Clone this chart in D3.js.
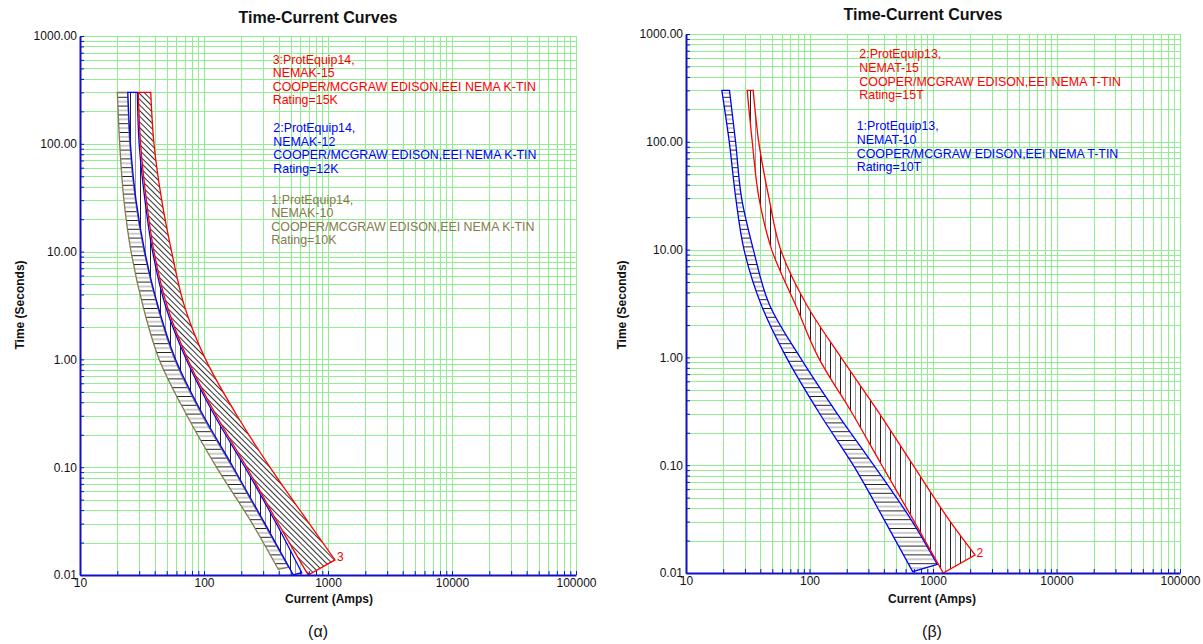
<!DOCTYPE html>
<html>
<head>
<meta charset="utf-8">
<script src="https://cdn.jsdelivr.net/npm/d3@7"></script>
<style>
  body { margin: 0; background: #fff; }
  svg { display: block; font-family: "Liberation Sans", Arial, Helvetica, sans-serif; }
</style>
</head>
<body>
<svg id="chart" width="1203" height="644"></svg>
<script>
// ---- Axis ticks ----
const xTickValues = [10, 100, 1000, 10000, 100000];
const xTickLabels = ["10", "100", "1000", "10000", "100000"];
const yTickValues = [0.01, 0.1, 1, 10, 100, 1000];
const yTickLabels = ["0.01", "0.10", "1.00", "10.00", "100.00", "1000.00"];

// ---- (α) NEMA K links, ProtEquip14: [current A, time s] ----
const k10Melt  = [[20.0, 300], [20.9, 100], [22.6, 30], [25.8, 10], [32.5, 3], [43.5, 1], [73, 0.3], [126, 0.1], [245, 0.03], [397, 0.0113]];
const k10Clear = [[24.3, 300], [25.2, 100], [28.0, 30], [32.9, 10], [42.5, 3], [58, 1], [97, 0.3], [169, 0.1], [305, 0.03], [480, 0.0118]];
const k12Melt  = [[24.3, 300], [25.5, 100], [28.3, 30], [33.3, 10], [43, 3], [59, 1], [99, 0.3], [172, 0.1], [310, 0.03], [525, 0.01]];
const k12Clear = [[29.0, 300], [30.0, 100], [33.4, 30], [38.5, 10], [49.5, 3], [72, 1], [122, 0.3], [214, 0.1], [383, 0.03], [614, 0.0105]];
const k15Melt  = [[29.5, 300], [30.8, 100], [34.3, 30], [39.5, 10], [51, 3], [74, 1], [126, 0.3], [221, 0.1], [397, 0.03], [693, 0.01]];
const k15Clear = [[37.2, 300], [39.5, 100], [45.6, 30], [54.8, 10], [70.3, 3], [103, 1], [185, 0.3], [340, 0.1], [707, 0.03], [1138, 0.0138]];

// ---- (β) NEMA T links, ProtEquip13: [current A, time s] ----
const t10Melt  = [[19.5, 300], [22.4, 100], [25.3, 30], [29.5, 10], [41, 3], [65, 1], [121, 0.3], [226, 0.1], [410, 0.03], [685, 0.0103]];
const t10Clear = [[22.5, 300], [25.2, 100], [28.2, 30], [35.1, 10], [47.9, 3], [84, 1], [168, 0.3], [331, 0.1], [680, 0.03], [1085, 0.012]];
const t15Melt  = [[31.3, 300], [34.4, 100], [39.0, 30], [49.4, 10], [77.8, 3], [118, 1], [223, 0.3], [385, 0.1], [706, 0.03], [1211, 0.01]];
const t15Clear = [[35.0, 300], [38.8, 100], [47.0, 30], [58.4, 10], [96, 3], [180, 1], [370, 0.3], [690, 0.1], [1380, 0.03], [2188, 0.0147]];

// ---- Device descriptions ----
const legendK15 = ["3:ProtEquip14,", "NEMAK-15", "COOPER/MCGRAW EDISON,EEI NEMA K-TIN", "Rating=15K"];
const legendK12 = ["2:ProtEquip14,", "NEMAK-12", "COOPER/MCGRAW EDISON,EEI NEMA K-TIN", "Rating=12K"];
const legendK10 = ["1:ProtEquip14,", "NEMAK-10", "COOPER/MCGRAW EDISON,EEI NEMA K-TIN", "Rating=10K"];
const legendT15 = ["2:ProtEquip13,", "NEMAT-15", "COOPER/MCGRAW EDISON,EEI NEMA T-TIN", "Rating=15T"];
const legendT10 = ["1:ProtEquip13,", "NEMAT-10", "COOPER/MCGRAW EDISON,EEI NEMA T-TIN", "Rating=10T"];

const RED = "#ff0000", BLUE = "#0000ff", OLIVE = "#857b4e";
const AXIS = "#1010c8", GRID = "#90ee90";

const svg = d3.select("#chart");
const defs = svg.append("defs");

// Hatch fills: horizontal, vertical and back-diagonal
function hatchPattern(id, w, h, lines, transform) {
  const p = defs.append("pattern").attr("id", id)
    .attr("patternUnits", "userSpaceOnUse").attr("width", w).attr("height", h);
  if (transform) p.attr("patternTransform", transform);
  p.append("rect").attr("width", w).attr("height", h).attr("fill", "#fff");
  lines.forEach(l => p.append("line")
    .attr("x1", l[0]).attr("y1", l[1]).attr("x2", l[2]).attr("y2", l[3])
    .attr("stroke", l[4]).attr("stroke-width", 1));
}
hatchPattern("hatch-h", 10, 8.8, [[0, 0.5, 10, 0.5, "#222"], [0, 4.9, 10, 4.9, "#9a9a9a"]]);
hatchPattern("hatch-v", 10, 10, [[0.5, 0, 0.5, 10, "#222"], [5.5, 0, 5.5, 10, "#9a9a9a"]]);
hatchPattern("hatch-d", 4, 10, [[0.5, 0, 0.5, 10, "#333"]], "rotate(-45)");

// Grid values: every 1..9 multiple of each decade
function decadeGrid(lo, hi) {
  const out = [];
  for (let e = lo; e < hi; e++) for (let k = 1; k <= 9; k++) out.push(+(k * Math.pow(10, e)).toPrecision(6));
  out.push(Math.pow(10, hi));
  return out;
}
const gridX = decadeGrid(1, 5);
const gridY = decadeGrid(-2, 3);

const panels = [
  {
    id: "alpha", xr: [80, 576], yr: [575, 36], titleX: 318, titleY: 23,
    xLabelX: 329, yLabelX: 23.5, captionX: 318, caption: "(α)",
    bands: [
      { melt: k10Melt, clear: k10Clear, color: OLIVE, fill: "hatch-h" },
      { melt: k12Melt, clear: k12Clear, color: BLUE, fill: "hatch-v" },
      { melt: k15Melt, clear: k15Clear, color: RED, fill: "hatch-d" }
    ],
    tag: { text: "3", curve: k15Clear, color: RED, dx: 2, dy: 1 },
    legend: [
      { lines: legendK15, color: RED, x: 272.7, y: 63.6 },
      { lines: legendK12, color: BLUE, x: 273.3, y: 132 },
      { lines: legendK10, color: OLIVE, x: 271.3, y: 203.6 }
    ]
  },
  {
    id: "beta", xr: [686, 1180], yr: [573, 34], titleX: 923, titleY: 20,
    xLabelX: 932, yLabelX: 625.5, captionX: 932, caption: "(β)",
    bands: [
      { melt: t10Melt, clear: t10Clear, color: BLUE, fill: "hatch-h" },
      { melt: t15Melt, clear: t15Clear, color: RED, fill: "hatch-v" }
    ],
    tag: { text: "2", curve: t15Clear, color: RED, dx: 1.5, dy: 2 },
    legend: [
      { lines: legendT15, color: RED, x: 859.3, y: 58.3 },
      { lines: legendT10, color: BLUE, x: 856.7, y: 130.3 }
    ]
  }
];

panels.forEach(P => {
  const x = d3.scaleLog().domain([10, 100000]).range(P.xr);
  const y = d3.scaleLog().domain([0.01, 1000]).range(P.yr);
  const g = svg.append("g");

  // grid
  const grid = g.append("g").attr("stroke", GRID).attr("stroke-width", 1);
  gridX.forEach(v => {
    const px = Math.round(x(v)) + 0.5;
    grid.append("line").attr("x1", px).attr("x2", px).attr("y1", P.yr[1]).attr("y2", P.yr[0]);
  });
  gridY.forEach(v => {
    const py = Math.round(y(v)) + 0.5;
    grid.append("line").attr("x1", P.xr[0]).attr("x2", P.xr[1]).attr("y1", py).attr("y2", py);
  });

  // bands: melting curve down, closing segment, clearing curve back up
  const clipId = "clip-" + P.id;
  defs.append("clipPath").attr("id", clipId).append("rect")
    .attr("x", P.xr[0]).attr("y", P.yr[1])
    .attr("width", P.xr[1] - P.xr[0]).attr("height", P.yr[0] - P.yr[1]);
  const line = d3.line().x(d => x(d[0])).y(d => y(d[1])).curve(d3.curveMonotoneY);
  const bandG = g.append("g").attr("clip-path", `url(#${clipId})`);
  P.bands.forEach(b => {
    const d = line(b.melt) + "L" + line(b.clear.slice().reverse()).slice(1) + "Z";
    bandG.append("path").attr("d", d)
      .attr("fill", `url(#${b.fill})`)
      .attr("stroke", b.color).attr("stroke-width", 1.3).attr("stroke-linejoin", "miter");
  });

  // end tag on the clearing curve
  const last = P.tag.curve[P.tag.curve.length - 1];
  g.append("text").attr("x", x(last[0]) + P.tag.dx).attr("y", y(last[1]) + P.tag.dy)
    .attr("fill", P.tag.color).attr("font-size", 12).text(P.tag.text);

  // axes
  const xAxis = d3.axisBottom(x).tickValues(gridX).tickSize(-4).tickSizeOuter(0).tickPadding(3)
    .tickFormat(v => { const i = xTickValues.indexOf(v); return i >= 0 ? xTickLabels[i] : ""; });
  const yAxis = d3.axisLeft(y).tickValues(gridY).tickSize(-4).tickSizeOuter(0).tickPadding(3)
    .tickFormat(v => { const i = yTickValues.indexOf(v); return i >= 0 ? yTickLabels[i] : ""; });
  const ax = g.append("g").attr("transform", `translate(0,${P.yr[0]})`).call(xAxis);
  const ay = g.append("g").attr("transform", `translate(${P.xr[0]},0)`).call(yAxis);
  [ax, ay].forEach(a => {
    a.select(".domain").attr("stroke", AXIS).attr("stroke-width", 2);
    a.selectAll(".tick line").attr("stroke", AXIS);
    a.selectAll(".tick text").attr("fill", "#111").attr("font-size", 12)
      .attr("font-family", "Liberation Sans, Arial, Helvetica, sans-serif");
  });

  // titles
  g.append("text").attr("x", P.titleX).attr("y", P.titleY).attr("text-anchor", "middle")
    .attr("font-size", 16).attr("font-weight", "bold").attr("fill", "#111").text("Time-Current Curves");
  g.append("text").attr("x", P.xLabelX).attr("y", 603).attr("text-anchor", "middle")
    .attr("font-size", 12).attr("font-weight", "bold").attr("fill", "#111").text("Current (Amps)");
  g.append("text").attr("transform", `translate(${P.yLabelX},305) rotate(-90)`).attr("text-anchor", "middle")
    .attr("font-size", 12).attr("font-weight", "bold").attr("fill", "#111").text("Time (Seconds)");
  g.append("text").attr("x", P.captionX).attr("y", 637).attr("text-anchor", "middle")
    .attr("font-size", 16).attr("fill", "#111").text(P.caption);

  // device descriptions
  P.legend.forEach(L => {
    const t = g.append("text").attr("fill", L.color).attr("font-size", 12.4);
    L.lines.forEach((s, i) => t.append("tspan").attr("x", L.x).attr("y", L.y + i * 13.6).text(s));
  });
});
</script>
</body>
</html>
